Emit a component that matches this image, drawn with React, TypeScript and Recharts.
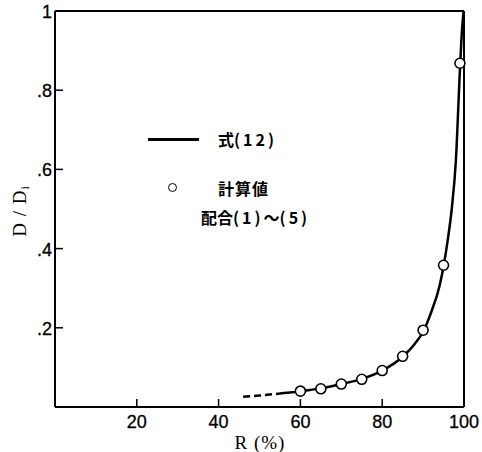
import { ComposedChart, Line, Scatter, XAxis, YAxis, ReferenceLine } from "recharts";

// R (%) vs D/Di — curve from eq.(12), dashed extrapolation, computed points
const curveR = [55, 58, 60, 65, 70, 75, 80, 85, 88, 90, 92, 94, 95, 96, 97, 98, 99, 99.5, 99.9];
const curveD = [0.034, 0.037, 0.04, 0.047, 0.058, 0.071, 0.092, 0.127, 0.16, 0.19, 0.24, 0.305, 0.355, 0.42, 0.5, 0.62, 0.85, 0.95, 1.0];

const dashR = [46, 50, 55];
const dashD = [0.026, 0.029, 0.034];

const calcR = [60, 65, 70, 75, 80, 85, 90, 95, 99];
const calcD = [0.04, 0.046, 0.058, 0.07, 0.092, 0.128, 0.194, 0.358, 0.868];

const xTicks = [20, 40, 60, 80, 100];
const yTicks = [0.2, 0.4, 0.6, 0.8, 1];

const curveData = curveR.map((r, i) => ({ r, d: curveD[i] }));
const dashData = dashR.map((r, i) => ({ r, d: dashD[i] }));
const calcData = calcR.map((r, i) => ({ r, d: calcD[i] }));

const TICK_FONT = "'Liberation Sans', Arial, sans-serif";
const SERIF = "'Liberation Serif', 'DejaVu Serif', serif";
const CJK = "'Noto Sans CJK JP', sans-serif";

const fmtY = (v: number) => (v === 1 ? "1" : String(v).replace("0.", "."));

const XTick = (props: any) => {
  const { x, y, payload } = props;
  return (
    <g>
      {payload.value !== 100 && <line x1={x} y1={y} x2={x} y2={y - 8} stroke="#000" strokeWidth={1.5} />}
      <text x={x} y={y + 21} textAnchor="middle" fontFamily={TICK_FONT} fontSize={18} fill="#000" stroke="#000" strokeWidth={0.3}>
        {payload.value}
      </text>
    </g>
  );
};

const YTick = (props: any) => {
  const { x, y, payload } = props;
  return (
    <g>
      {payload.value !== 1 && <line x1={x} y1={y} x2={x + 8} y2={y} stroke="#000" strokeWidth={1.5} />}
      <text x={x - 3} y={y + 7} textAnchor="end" fontFamily={TICK_FONT} fontSize={18} fill="#000" stroke="#000" strokeWidth={0.3}>
        {fmtY(payload.value)}
      </text>
    </g>
  );
};

const YLabel = () => (
  <text
    x={22}
    y={211}
    transform="rotate(-90 22 211)"
    textAnchor="middle"
    dominantBaseline="middle"
    fontFamily={SERIF}
    fontSize={19}
    letterSpacing={1}
    fill="#000"
  >
    D / D<tspan fontSize={12} dy={4}>i</tspan>
  </text>
);

const XLabel = () => (
  <text x={260} y={449} textAnchor="middle" fontFamily={SERIF} fontSize={19} letterSpacing={1} fill="#000">
    R (%)
  </text>
);

const Dot = (props: any) => {
  const { cx, cy } = props;
  return <circle cx={cx} cy={cy} r={5} fill="#fff" stroke="#000" strokeWidth={1.6} />;
};

const legendText = {
  position: "absolute" as const,
  fontFamily: CJK,
  fontSize: 16,
  fontWeight: 700,
  lineHeight: "20px",
  whiteSpace: "nowrap" as const,
};

const sp = { letterSpacing: 3 };

export default function App() {
  return (
    <div style={{ position: "absolute", left: 0, top: 0, width: 482, height: 452, background: "#fff" }}>
      <ComposedChart width={482} height={452} margin={{ top: 11, right: 18, bottom: 0, left: 0 }}>
        <XAxis
          dataKey="r"
          type="number"
          domain={[0, 100]}
          ticks={xTicks}
          height={45}
          tickSize={0}
          tickMargin={0}
          tickLine={false}
          tick={<XTick />}
          stroke="#000"
          strokeWidth={2}
          label={<XLabel />}
        />
        <YAxis
          type="number"
          domain={[0, 1]}
          ticks={yTicks}
          width={55}
          tickSize={0}
          tickMargin={0}
          tickLine={false}
          tick={<YTick />}
          stroke="#000"
          strokeWidth={2}
          label={<YLabel />}
        />
        <ReferenceLine y={1} stroke="#000" strokeWidth={2} />
        <ReferenceLine x={100} stroke="#000" strokeWidth={2} />
        <Line data={dashData} dataKey="d" type="monotone" stroke="#000" strokeWidth={2.5} strokeDasharray="7 4" dot={false} isAnimationActive={false} />
        <Line data={curveData} dataKey="d" type="monotone" stroke="#000" strokeWidth={2.5} dot={false} isAnimationActive={false} />
        <Scatter data={calcData} dataKey="d" shape={<Dot />} isAnimationActive={false} />
      </ComposedChart>
      <div style={{ position: "absolute", left: 148, top: 138, width: 51, height: 3, background: "#000" }} />
      <div style={{ position: "absolute", left: 168, top: 183, width: 7, height: 7, border: "1.6px solid #000", borderRadius: "50%" }} />
      <div style={{ ...legendText, left: 218, top: 129 }}>
        式<span style={sp}>(12)</span>
      </div>
      <div style={{ ...legendText, left: 218, top: 178, letterSpacing: 1 }}>計算値</div>
      <div style={{ ...legendText, left: 201, top: 207 }}>
        配合<span style={sp}>(1)</span>～<span style={sp}>(5)</span>
      </div>
    </div>
  );
}
